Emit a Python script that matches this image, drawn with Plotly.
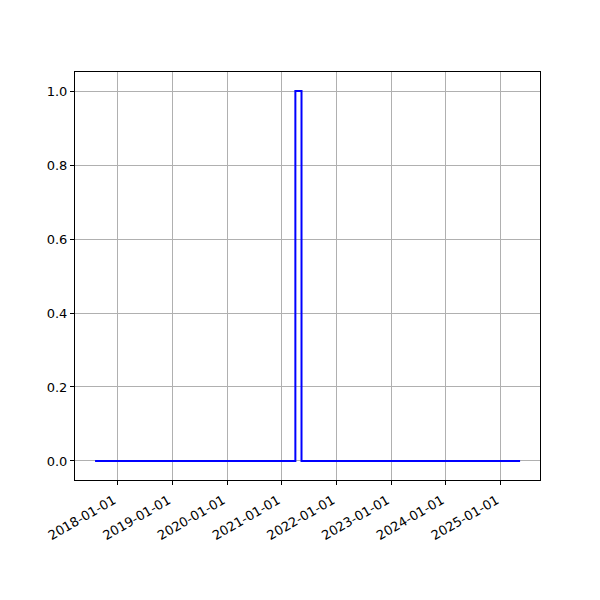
import plotly.graph_objects as go

dates = ["2017-08-03", "2021-04-01", "2021-05-12", "2025-05-10"]
values = [0, 1, 0, 0]
tick_dates = ["2018-01-01", "2019-01-01", "2020-01-01", "2021-01-01",
              "2022-01-01", "2023-01-01", "2024-01-01", "2025-01-01"]
y_ticks = [0.0, 0.2, 0.4, 0.6, 0.8, 1.0]

fig = go.Figure()
fig.add_trace(go.Scatter(x=dates, y=values, mode="lines", line_shape="hv",
                         line=dict(color="blue", width=2), showlegend=False))

axis_common = dict(showline=True, linecolor="black", linewidth=1, mirror=True,
                   ticks="outside", ticklen=4, tickcolor="black", tickwidth=1,
                   showgrid=True, gridcolor="#b0b0b0", gridwidth=1, zeroline=False,
                   tickfont=dict(family="DejaVu Sans", size=13, color="black"))

fig.update_xaxes(range=["2017-03-22", "2025-09-20"], tickvals=tick_dates,
                 ticktext=tick_dates, tickangle=-30, ticklabelshift=-4,
                 ticklabelstandoff=3, **axis_common)
fig.update_yaxes(range=[-0.0514, 1.0514], tickvals=y_ticks,
                 ticktext=[f"{v:.1f}" for v in y_ticks], **axis_common)

fig.update_layout(width=600, height=600, plot_bgcolor="white", paper_bgcolor="white",
                  margin=dict(l=67, r=68, t=64, b=128, autoexpand=False),
                  font=dict(family="DejaVu Sans", size=13, color="black"))

fig.write_html("out.html")
